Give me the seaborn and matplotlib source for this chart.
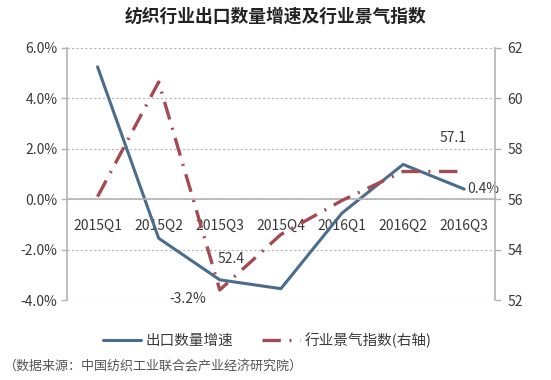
import matplotlib
matplotlib.use("Agg")
import matplotlib.pyplot as plt
import seaborn as sns
import pandas as pd
from matplotlib.ticker import FuncFormatter, FixedLocator

# data
quarters = ["2015Q1", "2015Q2", "2015Q3", "2015Q4", "2016Q1", "2016Q2", "2016Q3"]
export_growth = [5.25, -1.55, -3.2, -3.55, -0.55, 1.38, 0.4]      # %
climate_index = [56.1, 60.65, 52.4, 54.6, 55.95, 57.1, 57.1]      # right axis

left_ticks = [-4, -2, 0, 2, 4, 6]
right_ticks = [52, 54, 56, 58, 60, 62]

df = pd.DataFrame({"quarter": quarters,
                   "growth": export_growth,
                   "index": climate_index})

sns.set_style("white")
plt.rcParams["font.family"] = ["Noto Sans CJK SC", "DejaVu Sans"]

blue = "#4a6d8e"
red = "#a54a52"
grey = "#b4b4b4"
txt = "#3a3a3a"
fs = 10

fig = plt.figure(figsize=(5.51, 3.80), dpi=100)
ax = fig.add_axes([0.1216, 0.2105, 0.7764, 0.6632])

sns.lineplot(data=df, x="quarter", y="growth", ax=ax, color=blue,
             linewidth=2.2, sort=False, label="出口数量增速", legend=False)
ax.set_xlim(-0.5, len(quarters) - 0.5)
ax.set_ylim(-4, 6)
ax.set_yticks(left_ticks)
ax.yaxis.set_major_formatter(FuncFormatter(lambda v, p: f"{v:.1f}%"))
ax.yaxis.grid(True, linestyle=(0, (2, 2)), color=grey, linewidth=0.8)
ax.set_xlabel("")
ax.set_ylabel("")

# x axis sits on the zero line, ticks at category boundaries
ax.spines["bottom"].set_position(("data", 0))
ax.xaxis.set_major_locator(FixedLocator([i + 0.5 for i in range(-1, len(quarters))]))
ax.xaxis.set_minor_locator(FixedLocator(list(range(len(quarters)))))
ax.xaxis.set_major_formatter(FuncFormatter(lambda v, p: ""))
ax.xaxis.set_minor_formatter(FuncFormatter(lambda v, p: quarters[int(round(v))]))
ax.tick_params(axis="x", which="major", direction="out", length=4, color=grey, width=1)
ax.tick_params(axis="x", which="minor", length=0, pad=14, labelsize=fs, labelcolor=txt)
ax.tick_params(axis="y", direction="out", length=4, color=grey, width=1,
               labelsize=fs, labelcolor=txt, left=True, pad=3)
for s in ["top", "right"]:
    ax.spines[s].set_visible(False)
for s in ["left", "bottom"]:
    ax.spines[s].set_color(grey)
    ax.spines[s].set_linewidth(1.2)

ax2 = ax.twinx()
sns.lineplot(data=df, x="quarter", y="index", ax=ax2, color=red,
             linewidth=2.4, sort=False, label="行业景气指数(右轴)", legend=False)
ax2.lines[0].set_linestyle((0, (5.5, 2.6, 0.6, 2.6)))
ax2.set_ylim(52, 62)
ax2.set_yticks(right_ticks)
ax2.set_ylabel("")
ax2.tick_params(axis="y", direction="out", length=4, color=grey, width=1,
                labelsize=fs, labelcolor=txt, right=True, pad=5)
for s in ["top", "left", "bottom"]:
    ax2.spines[s].set_visible(False)
ax2.spines["right"].set_color(grey)
ax2.spines["right"].set_linewidth(1.2)

# value labels
ax.annotate(f"{export_growth[2]:.1f}%", (2, export_growth[2]), xytext=(-36, -14),
            textcoords="offset points", fontsize=fs, color=txt, ha="left", va="center")
ax.annotate(f"{export_growth[6]:.1f}%", (6, export_growth[6]), xytext=(2, 0),
            textcoords="offset points", fontsize=fs, color=txt, ha="left", va="center")
ax2.annotate(f"{climate_index[2]:.1f}", (2, climate_index[2]), xytext=(8, 22),
             textcoords="offset points", fontsize=fs, color=txt, ha="center", va="center")
ax2.annotate(f"{climate_index[6]:.1f}", (6, climate_index[6]), xytext=(-8, 24),
             textcoords="offset points", fontsize=fs, color=txt, ha="center", va="center")

h1, l1 = ax.get_legend_handles_labels()
h2, l2 = ax2.get_legend_handles_labels()
fig.legend(h1 + h2, l1 + l2, loc="center", bbox_to_anchor=(0.485, 0.105), ncol=2,
           frameon=False, fontsize=10.5, labelcolor=txt, handlelength=2.6,
           handletextpad=0.3, columnspacing=2.0)

fig.text(0.5, 0.955, "纺织行业出口数量增速及行业景气指数", ha="center", va="center",
         fontsize=12.8, fontweight="bold", color="#222222")
fig.text(0.008, 0.037, "（数据来源：中国纺织工业联合会产业经济研究院）", ha="left",
         va="center", fontsize=9.4, color="#555555")

fig.savefig("out.png", dpi=100, facecolor="white")
